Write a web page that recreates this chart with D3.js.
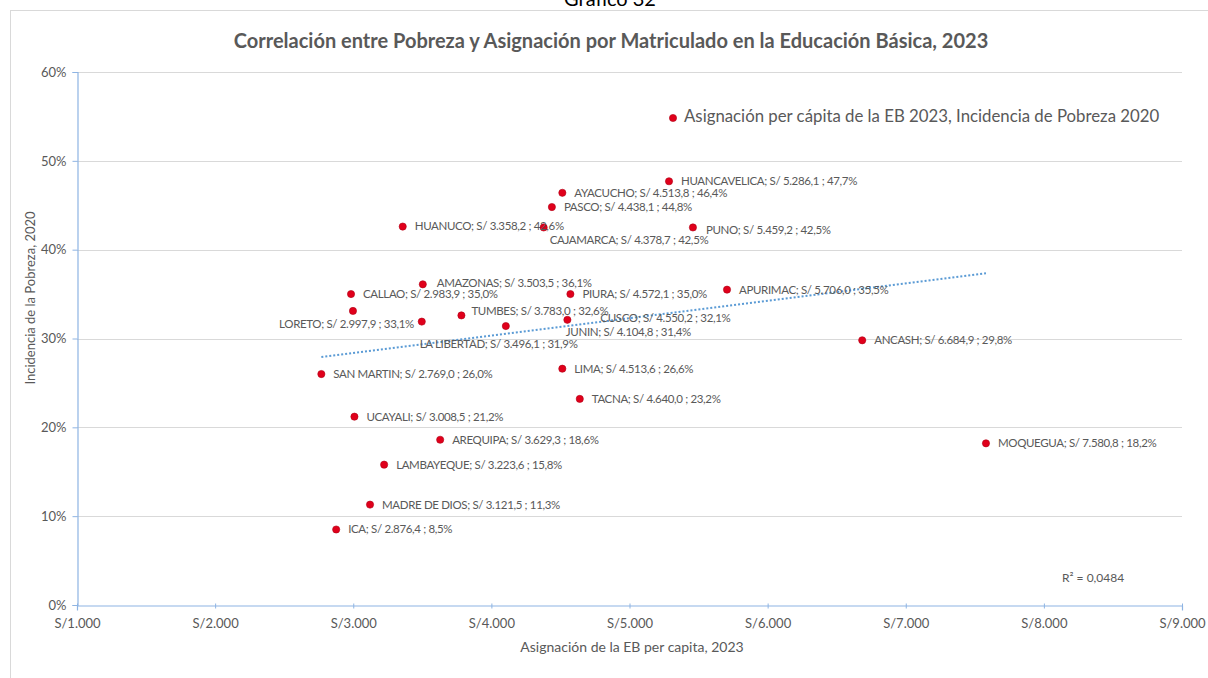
<!DOCTYPE html>
<html>
<head>
<meta charset="utf-8">
<script src="https://cdn.jsdelivr.net/npm/d3@7"></script>
<style>
  html, body { margin: 0; padding: 0; background: #fff; }
  svg { display: block; }
  text { font-family: Lato, "Open Sans", sans-serif; }
</style>
</head>
<body>
<svg id="chart" width="1208" height="678"></svg>
<script>
// ---------------- DATA ----------------
const regions = ["HUANCAVELICA","AYACUCHO","PASCO","HUANUCO","CAJAMARCA","PUNO","AMAZONAS","CALLAO","PIURA","APURIMAC","LORETO","TUMBES","CUSCO","LA LIBERTAD","JUNIN","ANCASH","SAN MARTIN","LIMA","TACNA","UCAYALI","AREQUIPA","LAMBAYEQUE","MADRE DE DIOS","ICA","MOQUEGUA"];
const asignacion = [5286.1,4513.8,4438.1,3358.2,4378.7,5459.2,3503.5,2983.9,4572.1,5706.0,2997.9,3783.0,4550.2,3496.1,4104.8,6684.9,2769.0,4513.6,4640.0,3008.5,3629.3,3223.6,3121.5,2876.4,7580.8];
const pobreza = [47.7,46.4,44.8,42.6,42.5,42.5,36.1,35.0,35.0,35.5,33.1,32.6,32.1,31.9,31.4,29.8,26.0,26.6,23.2,21.2,18.6,15.8,11.3,8.5,18.2];
const xTicks = [1000,2000,3000,4000,5000,6000,7000,8000,9000];
const yTicks = [0,10,20,30,40,50,60];
const r2Text = "R² = 0,0484";
const chartTitle = "Correlación entre Pobreza y Asignación por Matriculado en la Educación Básica, 2023";
const pageTitle = "Gráfico 32";
const legendText = "Asignación per cápita de la EB 2023, Incidencia de Pobreza 2020";
const xTitle = "Asignación de la EB per capita, 2023";
const yTitle = "Incidencia de la Pobreza, 2020";

// label placement (layout only)
const labelPlacement = {
  "CAJAMARCA": {dx: 6, dy: 14, anchor: "start"},
  "PUNO": {dx: 13, dy: 4, anchor: "start"},
  "LORETO": {dx: 61, dy: 14, anchor: "end"},
  "TUMBES": {dx: 10, dy: -3, anchor: "start"},
  "CUSCO": {dx: 33, dy: -1, anchor: "start"},
  "LA LIBERTAD": {dx: -2, dy: 23, anchor: "start"},
  "JUNIN": {dx: 60, dy: 7, anchor: "start"},
  "AMAZONAS": {dx: 14, dy: 0, anchor: "start"}
};
const defaultPlacement = {dx: 12, dy: 1, anchor: "start"};

// ---------------- SETUP ----------------
const es = d3.formatLocale({decimal: ",", thousands: ".", grouping: [3], currency: ["S/", ""]});
const fmtTick = es.format(",.0f");
const fmt1 = es.format(",.1f");

const svg = d3.select("#chart");
const W = 1208, H = 678;
const m = {left: 77, right: 1182, top: 72, bottom: 605};

const x = d3.scaleLinear().domain([1000, 9000]).range([m.left, m.right]);
const y = d3.scaleLinear().domain([0, 60]).range([m.bottom, m.top]);

const grey = "#595959";

// page title (cut off)
svg.append("text").attr("x", 610).attr("y", 6).attr("text-anchor", "middle")
  .attr("font-family", "Liberation Sans, Arial, sans-serif").attr("font-size", 20).attr("fill", "#000")
  .text(pageTitle);

// frame
svg.append("line").attr("x1", 10).attr("x2", W).attr("y1", 10.5).attr("y2", 10.5).attr("stroke", "#d9d9d9");
svg.append("line").attr("x1", 10.5).attr("x2", 10.5).attr("y1", 10).attr("y2", H).attr("stroke", "#d9d9d9");

// title
svg.append("text").attr("x", 611).attr("y", 48).attr("text-anchor", "middle")
  .attr("font-size", 20).attr("font-weight", 700).attr("fill", grey)
  .text(chartTitle);

// gridlines
svg.append("g").selectAll("line").data(yTicks.filter(d => d > 0)).join("line")
  .attr("x1", m.left).attr("x2", m.right)
  .attr("y1", d => Math.round(y(d)) + 0.5).attr("y2", d => Math.round(y(d)) + 0.5)
  .attr("stroke", "#d9d9d9").attr("stroke-width", 1);

// axes
const axisColor = "#8eb4e3";
const xAxis = svg.append("g").attr("transform", `translate(0,${Math.round(y(0)) + 0.5})`)
  .call(d3.axisBottom(x).tickValues(xTicks).tickSize(5).tickFormat(d => "S/" + fmtTick(d)));
const yAxis = svg.append("g").attr("transform", `translate(${Math.round(x(1000)) + 0.5},0)`)
  .call(d3.axisLeft(y).tickValues(yTicks).tickSize(5).tickFormat(d => d + "%"));
[xAxis, yAxis].forEach(a => {
  a.select(".domain").attr("stroke", axisColor).attr("stroke-width", 1.2);
  a.selectAll(".tick line").attr("stroke", axisColor);
  a.selectAll(".tick text").attr("fill", grey).attr("font-size", 13).attr("font-family", "Lato, sans-serif");
});
xAxis.selectAll(".tick line").attr("y1", -2).attr("y2", 3);
xAxis.selectAll(".tick text").attr("dy", "1.1em");
yAxis.selectAll(".tick line").attr("x1", -5).attr("x2", 0);
yAxis.selectAll(".tick text").attr("x", -11);

// axis titles
svg.append("text").attr("x", 632).attr("y", 652).attr("text-anchor", "middle")
  .attr("font-size", 14).attr("fill", grey).text(xTitle);
svg.append("text").attr("transform", `translate(35,${298}) rotate(-90)`).attr("text-anchor", "middle")
  .attr("font-size", 13).attr("fill", grey).text(yTitle);

// data
const data = regions.map((r, i) => ({name: r, x: asignacion[i], y: pobreza[i]}));

// trendline (OLS regression)
const mx = d3.mean(data, d => d.x), my = d3.mean(data, d => d.y);
const slope = d3.sum(data, d => (d.x - mx) * (d.y - my)) / d3.sum(data, d => (d.x - mx) ** 2);
const intercept = my - slope * mx;
const xr = d3.extent(data, d => d.x);
svg.append("line")
  .attr("x1", x(xr[0])).attr("y1", y(intercept + slope * xr[0]))
  .attr("x2", x(xr[1])).attr("y2", y(intercept + slope * xr[1]))
  .attr("stroke", "#5b9bd5").attr("stroke-width", 2).attr("stroke-dasharray", "2,2");

// points
svg.append("g").selectAll("circle").data(data).join("circle")
  .attr("cx", d => x(d.x)).attr("cy", d => y(d.y)).attr("r", 3.6)
  .attr("fill", "#e0001b").attr("stroke", "#b00015").attr("stroke-width", 0.6);

// labels
svg.append("g").selectAll("text").data(data).join("text")
  .each(function(d) {
    const p = labelPlacement[d.name] || defaultPlacement;
    d3.select(this)
      .attr("x", x(d.x) + p.dx).attr("y", y(d.y) + p.dy)
      .attr("text-anchor", p.anchor).attr("dominant-baseline", "middle");
  })
  .attr("font-size", 11.5).attr("letter-spacing", "-0.35px").attr("fill", grey)
  .text(d => `${d.name}; S/ ${fmt1(d.x)} ; ${fmt1(d.y)}%`);

// legend
svg.append("circle").attr("cx", 673).attr("cy", 118).attr("r", 3.6).attr("fill", "#e0001b").attr("stroke", "#b00015").attr("stroke-width", 0.6);
svg.append("text").attr("x", 684).attr("y", 118).attr("dominant-baseline", "middle")
  .attr("font-size", 16.8).attr("fill", grey).text(legendText);

// R²
svg.append("text").attr("x", 1062).attr("y", 579).attr("dominant-baseline", "middle")
  .attr("font-size", 12).attr("fill", grey).text(r2Text);
</script>
</body>
</html>
